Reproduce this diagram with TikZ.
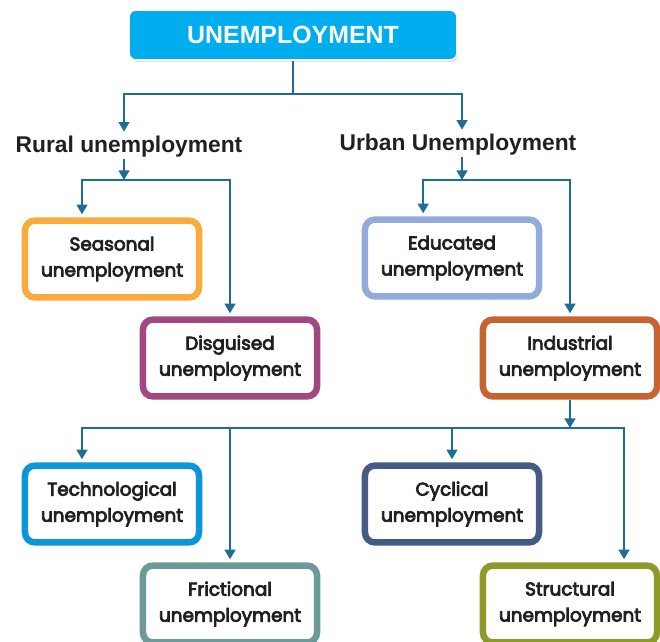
\documentclass[tikz,border=0pt]{standalone}
\usepackage{fontspec}
\setmainfont{Liberation Sans}
\newfontfamily\boxfont{Poppins}[FakeBold=4.2]
\usetikzlibrary{arrows.meta, positioning, shadows}
\definecolor{cline}{HTML}{1F6C97}
\definecolor{ccyan}{HTML}{00AEEF}
\definecolor{ctext}{HTML}{231F20}
\definecolor{cseason}{HTML}{F9AC3D}
\definecolor{cdisg}{HTML}{A2477F}
\definecolor{cedu}{HTML}{92ABDA}
\definecolor{cind}{HTML}{C6642F}
\definecolor{ctech}{HTML}{0B97D7}
\definecolor{cfric}{HTML}{6C9A99}
\definecolor{ccyc}{HTML}{465A86}
\definecolor{cstruc}{HTML}{8E9A27}
\tikzset{
  top/.style={fill=ccyan, draw=white, line width=1.2pt, rounded corners=5pt,
    minimum width=8.2cm, minimum height=1.25cm, text=white,
    font=\bfseries\fontsize{17.7}{20}\selectfont,
    drop shadow={shadow xshift=0.8pt, shadow yshift=-1.2pt, opacity=0.35}},
  branch/.style={font=\bfseries\fontsize{16.2}{19}\selectfont, text=ctext, inner sep=1pt},
  kind/.style={draw=#1, fill=white, line width=4.6pt, rounded corners=7pt,
    minimum width=4.35cm, minimum height=1.92cm, align=center, text=ctext,
    font=\boxfont\fontsize{13.1}{18.5}\selectfont},
  link/.style={draw=cline, line width=1.4pt},
  arrow/.style={link, -{Triangle[length=2.4mm, width=2.7mm]}},
  into/.style={arrow, shorten >=2.2pt},
}

\begin{document}
\begin{tikzpicture}[x=0.025cm, y=-0.025cm]
  \useasboundingbox (0,0) rectangle (660,641);
  \clip (0,0) rectangle (660,641);
  % root and the two branches
  \node[top] (unemp) at (293,35) {UNEMPLOYMENT};
  \node[branch] (rural) at (129,147) {Rural unemployment};
  \node[branch] (urban) at (458,145) {Urban Unemployment};
  % kinds of unemployment
  \foreach \name/\x/\y/\col/\txt in {season/112/259/cseason/Seasonal, disg/230/358/cdisg/Disguised,
      educ/452/258/cedu/Educated, indus/570/358/cind/Industrial,
      tech/112/504/ctech/Technological, fric/230/604/cfric/Frictional,
      cycl/452/504/ccyc/Cyclical, struc/570/604/cstruc/Structural}
    \node[kind=\col] (\name) at (\x,\y) {\txt\\unemployment};
  % bus lines
  \coordinate (bus0) at (293,94);
  \coordinate (busR) at (124,180);
  \coordinate (busU) at (462,180);
  \coordinate (busI) at (570,428);
  \draw[link] (unemp.south) -- (bus0);
  \draw[into] (bus0) -| (busR |- rural.north);
  \draw[into] (bus0) -| (busU |- urban.north);
  \draw[arrow] (busR |- rural.south) -- (busR);
  \draw[into] (busR) -| ([xshift=-0.75cm]season.north);
  \draw[into] (busR) -| (disg.north);
  \draw[arrow] (busU |- urban.south) -- (busU);
  \draw[into] (busU) -| ([xshift=-0.72cm]educ.north);
  \draw[into] (busU) -| (indus.north);
  \draw[arrow] (indus.south) -- (busI);
  \draw[into] (busI) -| ([xshift=-0.75cm]tech.north);
  \draw[into] (busI) -| (fric.north);
  \draw[into] (busI) -| (cycl.north);
  \draw[into] (busI) -| ([xshift=1.35cm]struc.north);
\end{tikzpicture}
\end{document}
